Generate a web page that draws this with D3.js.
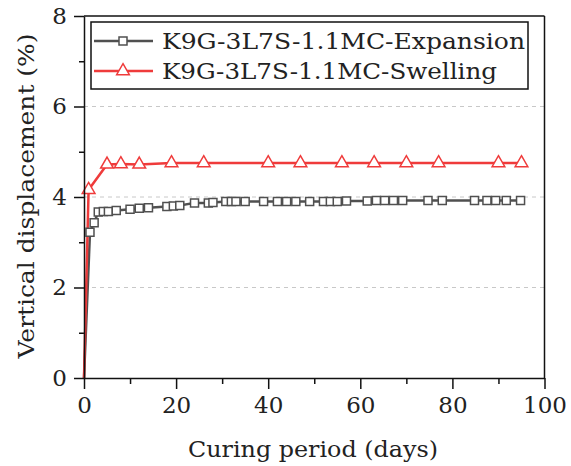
<!DOCTYPE html>
<html>
<head>
<meta charset="utf-8">
<script src="https://cdn.jsdelivr.net/npm/d3@7"></script>
<style>
  body { margin: 0; background: #fff; }
  text { font-family: "DejaVu Serif", serif; fill: #222; }
</style>
</head>
<body>
<div id="chart"></div>
<script>
// expansion series (gray squares)
var expDays = [0, 1.3, 2.2, 3.1, 4.2, 5.3, 7, 10, 12, 14, 18, 19.4, 20.8, 24, 27, 28, 30.8, 32, 33, 35,
               39, 42, 44, 46, 49, 52, 53.5, 55, 57, 61.5, 63.5, 65.3, 67.2, 69.2, 74.7, 77.8, 84.8, 87.5, 89.4, 91.7, 94.8];
var expVals = [0, 3.22, 3.43, 3.67, 3.68, 3.68, 3.70, 3.73, 3.75, 3.76, 3.79, 3.80, 3.81, 3.87, 3.87, 3.88, 3.90, 3.90, 3.90, 3.90,
               3.90, 3.90, 3.90, 3.90, 3.90, 3.90, 3.90, 3.90, 3.91, 3.91, 3.92, 3.92, 3.92, 3.92, 3.92, 3.92, 3.92, 3.92, 3.92, 3.92, 3.92];
// swelling series (red triangles)
var swDays = [0, 1, 5, 8, 12, 19, 26, 40, 47, 56, 63, 70, 77, 90, 95];
var swVals = [0, 4.16, 4.72, 4.73, 4.72, 4.75, 4.75, 4.75, 4.75, 4.75, 4.75, 4.75, 4.75, 4.75, 4.75];

var seriesNames = ["K9G-3L7S-1.1MC-Expansion", "K9G-3L7S-1.1MC-Swelling"];
var xTicks = [0, 20, 40, 60, 80, 100];
var yTicks = [0, 2, 4, 6, 8];

var svg_width = 571, svg_height = 466;
var svg = d3.select("#chart").append("svg")
  .attr("width", svg_width)
  .attr("height", svg_height);

var margin = {top: 16, right: 26.5, bottom: 88, left: 84};
var w = svg_width - margin.left - margin.right;
var h = svg_height - margin.top - margin.bottom;

var g = svg.append("g").attr("transform", "translate(" + margin.left + "," + margin.top + ")");

var x = d3.scaleLinear().domain([0, 100]).range([0, w]);
var y = d3.scaleLinear().domain([0, 8]).range([h, 0]);

var grayCol = "#505050", redCol = "#ef3b3b";

// dashed grid
g.append("g").selectAll("line")
  .data([2, 4, 6])
  .enter().append("line")
  .attr("x1", 0).attr("x2", w)
  .attr("y1", function(d) { return y(d); })
  .attr("y2", function(d) { return y(d); })
  .attr("stroke", "#c8c8c8")
  .attr("stroke-width", 1)
  .attr("stroke-dasharray", "4,4");

// frame top / right
g.append("line").attr("x1", 0).attr("x2", w).attr("y1", 0).attr("y2", 0)
  .attr("stroke", "#111").attr("stroke-width", 1.5);
g.append("line").attr("x1", w).attr("x2", w).attr("y1", 0).attr("y2", h)
  .attr("stroke", "#111").attr("stroke-width", 1.5);

// minor ticks
g.append("g").attr("transform", "translate(0," + h + ")")
  .call(d3.axisBottom(x).tickValues([10, 30, 50, 70, 90]).tickSize(6).tickFormat(""))
  .call(function(s) { s.select(".domain").remove(); s.selectAll("line").attr("stroke", "#111").attr("stroke-width", 1.5); });
g.append("g")
  .call(d3.axisLeft(y).tickValues([1, 3, 5, 7]).tickSize(5).tickFormat(""))
  .call(function(s) { s.select(".domain").remove(); s.selectAll("line").attr("stroke", "#111").attr("stroke-width", 1.5); });

// lines
var expData = expDays.map(function(d, i) { return [d, expVals[i]]; });
var swData = swDays.map(function(d, i) { return [d, swVals[i]]; });

var line = d3.line().x(function(d) { return x(d[0]); }).y(function(d) { return y(d[1]); });

g.append("path").datum(expData)
  .attr("fill", "none").attr("stroke", grayCol).attr("stroke-width", 2.5)
  .attr("d", line);
g.append("path").datum(swData)
  .attr("fill", "none").attr("stroke", redCol).attr("stroke-width", 2.5)
  .attr("d", line);

var sq = d3.symbol().type(d3.symbolSquare).size(64);
var tri = d3.symbol().type(d3.symbolTriangle).size(70);

// markers (origin point sits under the axes, so skip it)
g.append("g").selectAll("path")
  .data(expData.filter(function(d) { return d[0] > 0; }))
  .enter().append("path")
  .attr("transform", function(d) { return "translate(" + x(d[0]) + "," + y(d[1]) + ")"; })
  .attr("d", sq)
  .attr("fill", "#fff").attr("stroke", grayCol).attr("stroke-width", 1.5);

g.append("g").selectAll("path")
  .data(swData.filter(function(d) { return d[0] > 0; }))
  .enter().append("path")
  .attr("transform", function(d) { return "translate(" + x(d[0]) + "," + y(d[1]) + ")"; })
  .attr("d", tri)
  .attr("fill", "#fff").attr("stroke", redCol).attr("stroke-width", 1.5);

// x axis
var xa = g.append("g").attr("transform", "translate(0," + h + ")")
  .call(d3.axisBottom(x).tickValues(xTicks).tickSize(11).tickSizeOuter(0).tickPadding(8));
// y axis
var ya = g.append("g")
  .call(d3.axisLeft(y).tickValues(yTicks).tickSize(10).tickSizeOuter(0).tickPadding(7));
[xa, ya].forEach(function(a) {
  a.select(".domain").attr("stroke", "#111").attr("stroke-width", 1.5);
  a.selectAll(".tick line").attr("stroke", "#111").attr("stroke-width", 1.5);
  a.selectAll("text").attr("font-family", "DejaVu Serif").attr("font-size", "23px").attr("fill", "#222");
});

// axis titles
svg.append("text")
  .attr("x", 313).attr("y", 457)
  .attr("text-anchor", "middle")
  .attr("font-size", "23px")
  .attr("textLength", 250).attr("lengthAdjust", "spacingAndGlyphs")
  .text("Curing period (days)");
svg.append("text")
  .attr("transform", "translate(34,196) rotate(-90)")
  .attr("text-anchor", "middle")
  .attr("font-size", "23px")
  .attr("textLength", 325).attr("lengthAdjust", "spacingAndGlyphs")
  .text("Vertical displacement (%)");

// legend
var lg = svg.append("g");
lg.append("rect")
  .attr("x", 91).attr("y", 22).attr("width", 437).attr("height", 67)
  .attr("fill", "#fff").attr("stroke", "#111").attr("stroke-width", 1.5);
var legendItems = [
  {name: seriesNames[0], col: grayCol, sym: sq, yy: 41, len: 363},
  {name: seriesNames[1], col: redCol, sym: tri, yy: 71, len: 335}
];
legendItems.forEach(function(it) {
  lg.append("line").attr("x1", 94).attr("x2", 153).attr("y1", it.yy).attr("y2", it.yy)
    .attr("stroke", it.col).attr("stroke-width", 2.5);
  lg.append("path").attr("transform", "translate(123," + it.yy + ")")
    .attr("d", it.sym).attr("fill", "#fff").attr("stroke", it.col).attr("stroke-width", 1.5);
  lg.append("text").attr("x", 162).attr("y", it.yy + 8)
    .attr("font-size", "22px")
    .attr("textLength", it.len).attr("lengthAdjust", "spacingAndGlyphs")
    .text(it.name);
});
</script>
</body>
</html>
